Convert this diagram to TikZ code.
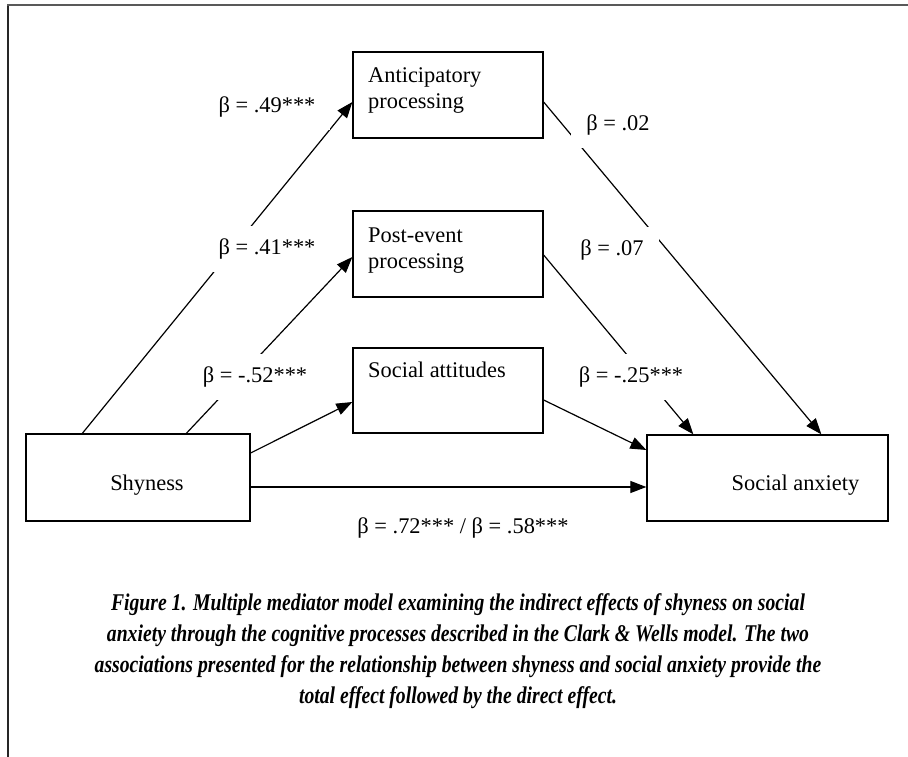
\documentclass[tikz,border=0pt]{standalone}
\usepackage{fontspec}
\setmainfont{Liberation Serif}
\newfontfamily\capfont[FakeStretch=0.82]{Liberation Serif}
\usetikzlibrary{arrows.meta}
\begin{document}
\begin{tikzpicture}[x=1pt,y=-1pt,
  box/.style={draw, line width=1.3pt, inner sep=0pt},
  txt/.style={inner sep=0pt, font=\fontsize{22.4}{25.5}\selectfont},
  beta/.style={fill=white, inner xsep=15pt, inner ysep=0pt, minimum height=46pt, font=\fontsize{22.4}{25.5}\selectfont},
  arr/.style={line width=1.2pt, -{Triangle[length=16pt,width=12pt]}},
  plain/.style={line width=1.2pt}]
\useasboundingbox (0,0) rectangle (908,757);
\fill[white] (0,0) rectangle (908,757);
% frame
\draw[line width=1.2pt, black!85] (8,757) -- (8,5);
\draw[line width=2pt, black!65] (7.4,5) -- (908,5);
% boxes
\node[box, minimum width=190pt, minimum height=86pt] (antic) at (448,95) {};
\node[box, minimum width=190pt, minimum height=86pt] (post) at (448,254) {};
\node[box, minimum width=190pt, minimum height=85pt] (satt) at (448,390.5) {};
\node[box, minimum width=224pt, minimum height=87pt] (shy) at (138,477.5) {};
\node[box, minimum width=241pt, minimum height=86pt] (sanx) at (767.5,478) {};
% box texts
\node[txt, anchor=base west] (anticA) at (368,83) {Anticipatory};
\node[txt, anchor=base west] (anticB) at (368,108.5) {processing};
\node[txt, anchor=base west] (postA) at (368,242.5) {Post-event};
\node[txt, anchor=base west] (postB) at (368,268) {processing};
\node[txt, anchor=base west] (sattA) at (368,377) {Social attitudes};
\node[txt, anchor=base] (shyT) at (147,490) {Shyness};
\node[txt, anchor=base] (sanxT) at (795.5,490) {Social anxiety};
% connectors
\draw[arr] ([xshift=57pt]shy.north west) -- ([yshift=-7pt]antic.west);
\draw[arr] ([xshift=161pt]shy.north west) -- ([yshift=-3pt]post.west);
\draw[arr] ([yshift=24.5pt]shy.east) -- ([yshift=-11.5pt]satt.west);
\draw[arr] ([yshift=-9.5pt]shy.east) -- ([yshift=-9pt]sanx.west);
\draw[arr] ([yshift=-7pt]antic.east) -- ([xshift=175pt]sanx.north west);
\draw[arr] ([yshift=-1pt]post.east) -- ([xshift=47pt]sanx.north west);
\draw[arr] ([yshift=-9.5pt]satt.east) -- ([yshift=28pt]sanx.west);
% coefficient labels
\node[beta] (l49) at (267,107) {β = .49***};
\node[beta] (l41) at (267,249) {β = .41***};
\node[beta] (l52) at (255,377) {β = -.52***};
\node[beta] (l02) at (618,125) {β = .02};
\node[beta] (l07) at (612,250) {β = .07};
\node[beta] (l25) at (631,377) {β = -.25***};
\node[beta] (l72) at (463,528) {β = .72*** / β = .58***};
% caption
\node[align=center, inner sep=0pt, font=\capfont\bfseries\itshape\fontsize{24}{31}\selectfont] (cap) at (458,651.5)
{Figure 1. Multiple mediator model examining the indirect effects of shyness on social\\
anxiety through the cognitive processes described in the Clark \& Wells model. The two\\
associations presented for the relationship between shyness and social anxiety provide the\\
total effect followed by the direct effect.};
\end{tikzpicture}
\end{document}
